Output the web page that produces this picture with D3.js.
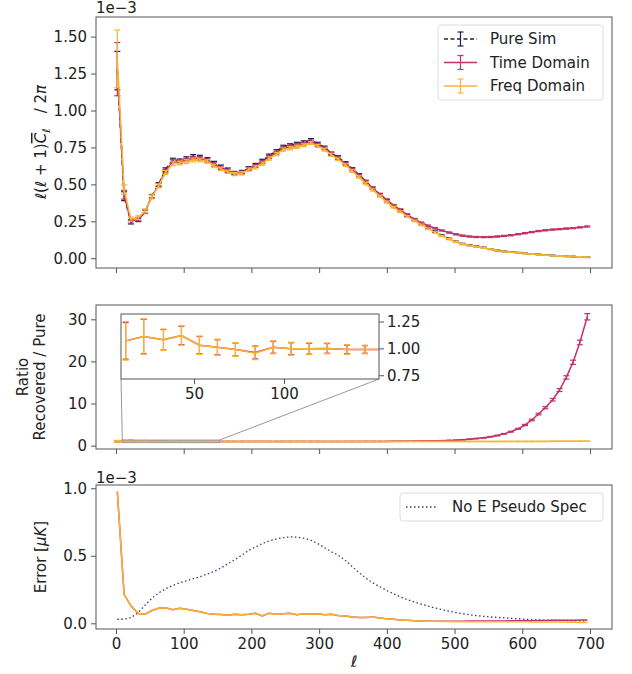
<!DOCTYPE html>
<html>
<head>
<meta charset="utf-8">
<script src="https://cdn.jsdelivr.net/npm/d3@7"></script>
<style>
body { margin: 0; background: #fff; }
text { font-family: "DejaVu Sans", sans-serif; fill: #222; }
</style>
</head>
<body>
<script>
// multipole bin centres
var ell = [2, 12, 22, 33, 43, 53, 63, 73, 84, 94,
  104, 114, 124, 135, 145, 155, 165, 175, 186, 196,
  206, 216, 226, 237, 247, 257, 267, 277, 288, 298,
  308, 318, 328, 339, 349, 359, 369, 379, 390, 400,
  410, 420, 430, 441, 451, 461, 471, 481, 492, 502,
  512, 522, 532, 543, 553, 563, 573, 583, 594, 604,
  614, 624, 634, 645, 655, 665, 675, 685, 696];

// top panel, l(l+1)C_l/2pi in units of 1e-3
var pureSim = [1.27, 0.42, 0.245, 0.26, 0.315, 0.42, 0.50, 0.60, 0.665, 0.66,
  0.675, 0.69, 0.685, 0.67, 0.645, 0.62, 0.60, 0.578, 0.585, 0.61,
  0.632, 0.66, 0.695, 0.725, 0.755, 0.765, 0.775, 0.785, 0.80, 0.775,
  0.75, 0.71, 0.685, 0.645, 0.605, 0.565, 0.52, 0.475, 0.43, 0.39,
  0.355, 0.325, 0.29, 0.26, 0.232, 0.205, 0.18, 0.155, 0.132, 0.112,
  0.097, 0.088, 0.081, 0.072, 0.062, 0.053, 0.047, 0.042, 0.038, 0.033,
  0.029, 0.026, 0.022, 0.019, 0.016, 0.013, 0.011, 0.009, 0.007];
var pureErr = [0.13, 0.03, 0.013, 0.012, 0.012, 0.012, 0.012, 0.012, 0.012, 0.012,
  0.012, 0.012, 0.012, 0.011, 0.011, 0.011, 0.011, 0.01, 0.01, 0.01,
  0.01, 0.01, 0.01, 0.01, 0.01, 0.01, 0.01, 0.01, 0.01, 0.01,
  0.009, 0.009, 0.009, 0.009, 0.008, 0.008, 0.008, 0.007, 0.007, 0.007,
  0.006, 0.006, 0.006, 0.005, 0.005, 0.005, 0.005, 0.004, 0.004, 0.004,
  0.004, 0.003, 0.003, 0.003, 0.003, 0.003, 0.003, 0.002, 0.002, 0.002,
  0.002, 0.002, 0.002, 0.002, 0.002, 0.002, 0.002, 0.002, 0.002];
var timeDom = [1.28, 0.43, 0.25, 0.265, 0.318, 0.418, 0.495, 0.59, 0.655, 0.652,
  0.665, 0.678, 0.675, 0.662, 0.635, 0.612, 0.592, 0.574, 0.58, 0.605,
  0.625, 0.65, 0.685, 0.715, 0.745, 0.755, 0.765, 0.775, 0.79, 0.768,
  0.743, 0.705, 0.678, 0.64, 0.6, 0.56, 0.517, 0.475, 0.433, 0.395,
  0.358, 0.328, 0.295, 0.265, 0.24, 0.22, 0.203, 0.188, 0.174, 0.162,
  0.153, 0.147, 0.144, 0.143, 0.144, 0.147, 0.151, 0.156, 0.163, 0.17,
  0.177, 0.184, 0.189, 0.194, 0.197, 0.201, 0.204, 0.209, 0.215];
var timeErr = [0.18, 0.03, 0.013, 0.012, 0.012, 0.012, 0.012, 0.012, 0.012, 0.012,
  0.012, 0.012, 0.012, 0.011, 0.011, 0.011, 0.011, 0.01, 0.01, 0.01,
  0.01, 0.01, 0.01, 0.01, 0.01, 0.01, 0.01, 0.01, 0.01, 0.01,
  0.009, 0.009, 0.009, 0.009, 0.008, 0.008, 0.008, 0.007, 0.007, 0.007,
  0.006, 0.006, 0.006, 0.005, 0.005, 0.005, 0.005, 0.004, 0.004, 0.004,
  0.004, 0.004, 0.004, 0.004, 0.004, 0.004, 0.004, 0.004, 0.004, 0.004,
  0.004, 0.004, 0.004, 0.004, 0.004, 0.004, 0.004, 0.004, 0.004];
var freqDom = [1.35, 0.465, 0.265, 0.275, 0.32, 0.415, 0.49, 0.58, 0.64, 0.645,
  0.655, 0.665, 0.665, 0.655, 0.625, 0.605, 0.585, 0.57, 0.575, 0.60,
  0.615, 0.64, 0.675, 0.705, 0.735, 0.745, 0.755, 0.765, 0.78, 0.76,
  0.735, 0.70, 0.67, 0.63, 0.59, 0.55, 0.505, 0.462, 0.42, 0.38,
  0.345, 0.315, 0.283, 0.253, 0.226, 0.2, 0.175, 0.151, 0.129, 0.11,
  0.096, 0.086, 0.079, 0.07, 0.061, 0.052, 0.046, 0.041, 0.037, 0.032,
  0.028, 0.025, 0.021, 0.018, 0.015, 0.013, 0.011, 0.009, 0.007];
var freqErr = [0.195, 0.032, 0.014, 0.013, 0.013, 0.013, 0.013, 0.013, 0.013, 0.013,
  0.013, 0.013, 0.012, 0.012, 0.012, 0.012, 0.011, 0.011, 0.011, 0.011,
  0.011, 0.011, 0.011, 0.011, 0.011, 0.011, 0.011, 0.01, 0.01, 0.01,
  0.01, 0.01, 0.009, 0.009, 0.009, 0.008, 0.008, 0.008, 0.007, 0.007,
  0.006, 0.006, 0.006, 0.005, 0.005, 0.005, 0.005, 0.004, 0.004, 0.004,
  0.004, 0.003, 0.003, 0.003, 0.003, 0.003, 0.003, 0.002, 0.002, 0.002,
  0.002, 0.002, 0.002, 0.002, 0.002, 0.002, 0.002, 0.002, 0.002];

// middle panel, recovered / pure
var ratioTime = [1.02, 1.07, 1.11, 1.08, 1.12, 1.03, 1.01, 0.99, 0.962, 1.01,
  0.997, 0.997, 1.0, 0.99, 0.99, 0.99, 0.99, 0.99, 0.99, 0.99,
  0.99, 0.99, 0.99, 0.99, 0.99, 0.99, 0.99, 0.99, 0.99, 0.99,
  0.99, 0.99, 0.99, 0.99, 0.99, 0.99, 1.0, 1.0, 1.0, 1.01,
  1.02, 1.03, 1.04, 1.06, 1.08, 1.1, 1.13, 1.18, 1.24, 1.3,
  1.4, 1.52, 1.67, 1.85, 2.1, 2.4, 2.8, 3.3, 4.0, 4.9,
  6.1, 7.5, 9.0, 10.9, 13.2, 16.2, 19.8, 24.5, 30.6];
var ratioTimeErr = [0.19, 0.17, 0.16, 0.095, 0.085, 0.08, 0.07, 0.06, 0.06, 0.055,
  0.055, 0.05, 0.045, 0.04, 0.035, 0.035, 0.035, 0.035, 0.035, 0.035,
  0.035, 0.035, 0.035, 0.035, 0.035, 0.035, 0.035, 0.035, 0.035, 0.035,
  0.03, 0.03, 0.03, 0.03, 0.03, 0.03, 0.03, 0.03, 0.03, 0.03,
  0.04, 0.04, 0.04, 0.04, 0.04, 0.04, 0.04, 0.04, 0.05, 0.05,
  0.05, 0.06, 0.06, 0.07, 0.07, 0.08, 0.09, 0.1, 0.12, 0.15,
  0.18, 0.2, 0.25, 0.3, 0.35, 0.4, 0.5, 0.55, 0.75];
var ratioFreq = [1.02, 1.07, 1.11, 1.08, 1.12, 1.03, 1.01, 0.99, 0.955, 1.01,
  0.997, 0.997, 1.0, 0.99, 0.99, 0.99, 0.99, 0.99, 0.99, 0.99,
  0.99, 0.99, 0.99, 0.99, 0.99, 0.99, 0.99, 0.99, 0.99, 0.99,
  0.99, 0.99, 0.99, 0.99, 0.99, 0.99, 0.99, 0.99, 0.99, 0.99,
  0.99, 0.99, 0.99, 0.99, 0.99, 0.99, 0.99, 0.99, 0.99, 0.99,
  0.99, 0.99, 0.99, 0.99, 0.99, 0.99, 1.0, 1.0, 1.0, 1.0,
  1.0, 1.01, 1.01, 1.02, 1.02, 1.03, 1.03, 1.04, 1.05];
var ratioFreqErr = [0.2, 0.18, 0.165, 0.1, 0.09, 0.085, 0.076, 0.065, 0.06, 0.06,
  0.06, 0.055, 0.05, 0.045, 0.04, 0.04, 0.04, 0.04, 0.04, 0.04,
  0.035, 0.035, 0.035, 0.035, 0.035, 0.035, 0.035, 0.035, 0.035, 0.035,
  0.03, 0.03, 0.03, 0.03, 0.03, 0.03, 0.03, 0.03, 0.03, 0.03,
  0.03, 0.03, 0.03, 0.03, 0.03, 0.03, 0.03, 0.03, 0.03, 0.03,
  0.03, 0.03, 0.03, 0.03, 0.03, 0.03, 0.03, 0.03, 0.03, 0.03,
  0.03, 0.03, 0.03, 0.03, 0.03, 0.03, 0.03, 0.03, 0.03];

// bottom panel, error in units of 1e-3
var errTime = [0.975, 0.215, 0.13, 0.072, 0.068, 0.095, 0.112, 0.115, 0.1, 0.112,
  0.105, 0.095, 0.085, 0.072, 0.068, 0.065, 0.06, 0.068, 0.064, 0.068,
  0.074, 0.055, 0.074, 0.068, 0.07, 0.074, 0.064, 0.07, 0.068, 0.07,
  0.064, 0.067, 0.058, 0.054, 0.046, 0.044, 0.043, 0.047, 0.04, 0.033,
  0.03, 0.025, 0.022, 0.019, 0.018, 0.016, 0.015, 0.015, 0.015, 0.016,
  0.016, 0.017, 0.017, 0.017, 0.018, 0.018, 0.018, 0.019, 0.019, 0.02,
  0.02, 0.021, 0.021, 0.022, 0.022, 0.023, 0.023, 0.024, 0.024];
var errFreq = [0.975, 0.215, 0.13, 0.072, 0.068, 0.095, 0.112, 0.115, 0.1, 0.112,
  0.105, 0.095, 0.085, 0.072, 0.068, 0.065, 0.06, 0.068, 0.064, 0.068,
  0.074, 0.055, 0.074, 0.068, 0.07, 0.074, 0.064, 0.07, 0.068, 0.07,
  0.064, 0.067, 0.058, 0.054, 0.046, 0.044, 0.043, 0.047, 0.04, 0.033,
  0.03, 0.025, 0.022, 0.019, 0.018, 0.016, 0.015, 0.014, 0.013, 0.012,
  0.012, 0.012, 0.012, 0.012, 0.012, 0.012, 0.011, 0.011, 0.011, 0.011,
  0.01, 0.01, 0.01, 0.009, 0.009, 0.008, 0.008, 0.007, 0.007];
var noEPseudo = [0.03, 0.03, 0.042, 0.08, 0.135, 0.185, 0.225, 0.255, 0.28, 0.3,
  0.315, 0.33, 0.345, 0.365, 0.385, 0.41, 0.44, 0.47, 0.505, 0.54,
  0.565, 0.59, 0.61, 0.625, 0.635, 0.64, 0.638, 0.63, 0.615, 0.59,
  0.56, 0.53, 0.505, 0.465, 0.42, 0.375, 0.335, 0.3, 0.27, 0.243,
  0.218, 0.196, 0.176, 0.158, 0.142, 0.127, 0.114, 0.102, 0.09, 0.08,
  0.071, 0.064, 0.057, 0.052, 0.047, 0.044, 0.041, 0.037, 0.033, 0.03,
  0.027, 0.025, 0.024, 0.023, 0.022, 0.021, 0.019, 0.018, 0.017];

var xTicks = [0, 100, 200, 300, 400, 500, 600, 700];
var specTicks = [0, 0.25, 0.5, 0.75, 1.0, 1.25, 1.5];
var ratioTicks = [0, 10, 20, 30];
var errTicks = [0, 0.5, 1.0];
var insetXTicks = [50, 100];
var insetYTicks = [0.75, 1.0, 1.25];

var w = 632;
var h = 674;
var cPure = "#231b55";
var cTime = "#c0336a";
var cFreq = "#fbb42e";
var spine = "#555";

var svg = d3.select("body")
  .append("svg")
  .attr("width", w)
  .attr("height", h)
  .style("background-color", "#fff");

var left = 96, right = 612;
var x = d3.scaleLinear().domain([-29.5, 732.5]).range([left, right]);

var y1 = d3.scaleLinear().domain([-0.066, 1.633]).range([268, 17]);
var y2 = d3.scaleLinear().domain([-0.8, 33.4]).range([449, 305]);
var y3 = d3.scaleLinear().domain([-0.042, 1.024]).range([629, 485]);

function frame(ys, ticks, fmt, showX) {
  var r = ys.range();
  var ax = svg.append("g").attr("transform", "translate(" + left + ",0)")
    .call(d3.axisLeft(ys).tickValues(ticks).tickFormat(d3.format(fmt)).tickSize(5).tickPadding(4));
  var bx = svg.append("g").attr("transform", "translate(0," + r[0] + ")")
    .call(d3.axisBottom(x).tickValues(xTicks).tickSize(5).tickPadding(4)
      .tickFormat(showX ? d3.format("d") : ""));
  [ax, bx].forEach(function(a) {
    a.select(".domain").remove();
    a.selectAll("line").attr("stroke", spine);
    a.selectAll("text").style("font-size", "15px").attr("fill", "#222");
  });
  svg.append("rect")
    .attr("x", left).attr("y", r[1])
    .attr("width", right - left).attr("height", r[0] - r[1])
    .attr("fill", "none").attr("stroke", spine).attr("stroke-width", 1);
}

function series(g, xs, ys, vals, errs, color, dash, keep) {
  var pts = ell.map(function(l, i) {
    return {l: l, v: vals[i], e: errs ? errs[i] : 0};
  }).filter(function(d) { return keep ? keep(d.l) : true; });
  var line = d3.line()
    .x(function(d) { return xs(d.l); })
    .y(function(d) { return ys(d.v); });
  g.append("path")
    .datum(pts)
    .attr("d", line)
    .attr("fill", "none")
    .attr("stroke", color)
    .attr("stroke-width", 1.5)
    .attr("stroke-dasharray", dash || null);
  if (!errs) return;
  g.selectAll(null)
    .data(pts)
    .enter()
    .append("line")
    .attr("x1", function(d) { return xs(d.l); })
    .attr("x2", function(d) { return xs(d.l); })
    .attr("y1", function(d) { return ys(d.v - d.e); })
    .attr("y2", function(d) { return ys(d.v + d.e); })
    .attr("stroke", color)
    .attr("stroke-width", 1.2);
  [-1, 1].forEach(function(s) {
    g.selectAll(null)
      .data(pts)
      .enter()
      .append("line")
      .attr("x1", function(d) { return xs(d.l) - 3; })
      .attr("x2", function(d) { return xs(d.l) + 3; })
      .attr("y1", function(d) { return ys(d.v + s * d.e); })
      .attr("y2", function(d) { return ys(d.v + s * d.e); })
      .attr("stroke", color)
      .attr("stroke-width", 1.2);
  });
}

// ---- top panel
frame(y1, specTicks, ".2f", false);
var g1 = svg.append("g");
series(g1, x, y1, pureSim, pureErr, cPure, "5,2.5");
series(g1, x, y1, timeDom, timeErr, cTime);
series(g1, x, y1, freqDom, freqErr, cFreq);

svg.append("text").attr("x", 96).attr("y", 13).style("font-size", "15px").text("1e\u22123");

var yl1 = svg.append("text")
  .attr("transform", "translate(46,142) rotate(-90)")
  .attr("text-anchor", "middle")
  .style("font-size", "15px");
yl1.append("tspan").style("font-style", "italic").text("\u2113");
yl1.append("tspan").text("(");
yl1.append("tspan").style("font-style", "italic").text("\u2113");
yl1.append("tspan").text(" + 1)");
yl1.append("tspan").style("font-style", "italic").style("text-decoration", "overline").text("C");
yl1.append("tspan").attr("dy", 4).style("font-size", "11px").style("font-style", "italic").text("\u2113");
yl1.append("tspan").attr("dy", -4).text("\u2003/ 2");
yl1.append("tspan").style("font-style", "italic").text("\u03c0");

var leg = [
  {name: "Pure Sim", color: cPure, dash: "4,2.5"},
  {name: "Time Domain", color: cTime, dash: null},
  {name: "Freq Domain", color: cFreq, dash: null}
];
svg.append("rect")
  .attr("x", 438).attr("y", 25).attr("width", 165).attr("height", 75).attr("rx", 3)
  .attr("fill", "#fff").attr("fill-opacity", 0.8).attr("stroke", "#ddd");
leg.forEach(function(d, i) {
  var yy = 39 + i * 23.5;
  svg.append("line").attr("x1", 444).attr("x2", 477).attr("y1", yy).attr("y2", yy)
    .attr("stroke", d.color).attr("stroke-width", 1.5).attr("stroke-dasharray", d.dash);
  svg.append("line").attr("x1", 460.5).attr("x2", 460.5).attr("y1", yy - 7).attr("y2", yy + 7)
    .attr("stroke", d.color).attr("stroke-width", 1.2);
  [-7, 7].forEach(function(o) {
    svg.append("line").attr("x1", 457.5).attr("x2", 463.5).attr("y1", yy + o).attr("y2", yy + o)
      .attr("stroke", d.color).attr("stroke-width", 1.2);
  });
  svg.append("text").attr("x", 490).attr("y", yy).attr("dy", "0.35em")
    .style("font-size", "15px").text(d.name);
});

// ---- middle panel
frame(y2, ratioTicks, "d", false);
var g2 = svg.append("g");
series(g2, x, y2, ratioTime, ratioTimeErr, cTime);
series(g2, x, y2, ratioFreq, ratioFreqErr, cFreq);

var yl2 = svg.append("text")
  .attr("transform", "translate(29,377) rotate(-90)")
  .attr("text-anchor", "middle")
  .style("font-size", "15px");
yl2.append("tspan").attr("x", 0).attr("dy", "-0.1em").text("Ratio");
yl2.append("tspan").attr("x", 0).attr("dy", "1.15em").text("Recovered / Pure");

// inset
var ix = d3.scaleLinear().domain([9.4, 152.8]).range([121, 379]);
var iy = d3.scaleLinear().domain([0.715, 1.32]).range([379, 314]);
var idom = ix.domain(), irng = iy.domain();

svg.append("rect")
  .attr("x", x(idom[0])).attr("y", y2(irng[1]))
  .attr("width", x(idom[1]) - x(idom[0])).attr("height", y2(irng[0]) - y2(irng[1]))
  .attr("fill", "none").attr("stroke", "#999").attr("stroke-width", 1);
svg.append("line").attr("x1", 121).attr("y1", 379).attr("x2", x(idom[0])).attr("y2", y2(irng[1]))
  .attr("stroke", "#999").attr("stroke-width", 1);
svg.append("line").attr("x1", 379).attr("y1", 379).attr("x2", x(idom[1])).attr("y2", y2(irng[1]))
  .attr("stroke", "#999").attr("stroke-width", 1);

svg.append("rect").attr("x", 121).attr("y", 314).attr("width", 258).attr("height", 65)
  .attr("fill", "#fff");
svg.append("clipPath").attr("id", "insetClip")
  .append("rect").attr("x", 121).attr("y", 314).attr("width", 258).attr("height", 65);
var gi = svg.append("g").attr("clip-path", "url(#insetClip)");
var inRange = function(l) { return l > 2 && l < 160; };
series(gi, ix, iy, ratioTime, ratioTimeErr, cTime, null, inRange);
series(gi, ix, iy, ratioFreq, ratioFreqErr, cFreq, null, inRange);

var iax = svg.append("g").attr("transform", "translate(379,0)")
  .call(d3.axisRight(iy).tickValues(insetYTicks).tickFormat(d3.format(".2f")).tickSize(5).tickPadding(3));
var ibx = svg.append("g").attr("transform", "translate(0,379)")
  .call(d3.axisBottom(ix).tickValues(insetXTicks).tickFormat(d3.format("d")).tickSize(5).tickPadding(4));
[iax, ibx].forEach(function(a) {
  a.select(".domain").remove();
  a.selectAll("line").attr("stroke", spine);
  a.selectAll("text").style("font-size", "15px").attr("fill", "#222");
});
svg.append("rect").attr("x", 121).attr("y", 314).attr("width", 258).attr("height", 65)
  .attr("fill", "none").attr("stroke", spine).attr("stroke-width", 1);

// ---- bottom panel
frame(y3, errTicks, ".1f", true);
var g3 = svg.append("g");
series(g3, x, y3, noEPseudo, null, "#3d3b6e", "1.5,2.5");
series(g3, x, y3, errTime, null, cTime);
series(g3, x, y3, errFreq, null, cFreq);
g3.selectAll("path").filter(function(d, i) { return i === 0; }).attr("stroke-width", 1.3);

svg.append("text").attr("x", 96).attr("y", 483).style("font-size", "15px").text("1e\u22123");

var yl3 = svg.append("text")
  .attr("transform", "translate(46,557) rotate(-90)")
  .attr("text-anchor", "middle")
  .style("font-size", "15px");
yl3.append("tspan").text("Error [");
yl3.append("tspan").style("font-style", "italic").text("\u03bcK");
yl3.append("tspan").text("]");

svg.append("text").attr("x", 354).attr("y", 667).attr("text-anchor", "middle")
  .style("font-size", "16px").style("font-style", "italic").text("\u2113");

svg.append("rect")
  .attr("x", 400).attr("y", 493).attr("width", 203).attr("height", 28).attr("rx", 3)
  .attr("fill", "#fff").attr("fill-opacity", 0.8).attr("stroke", "#ddd");
svg.append("line").attr("x1", 406).attr("x2", 437).attr("y1", 507).attr("y2", 507)
  .attr("stroke", "#3d3b6e").attr("stroke-width", 1.3).attr("stroke-dasharray", "1.5,2.5");
svg.append("text").attr("x", 452).attr("y", 507).attr("dy", "0.35em")
  .style("font-size", "15px").text("No E Pseudo Spec");
</script>
</body>
</html>
